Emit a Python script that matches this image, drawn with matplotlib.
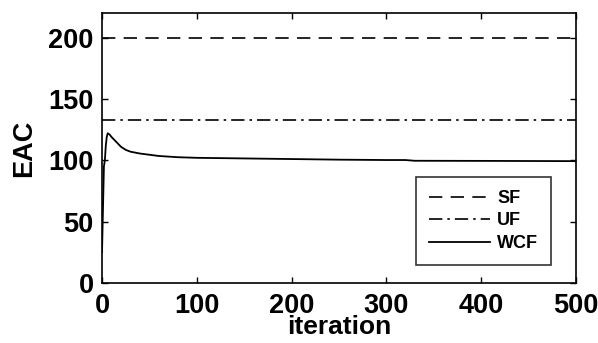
import matplotlib
matplotlib.use("Agg")
import matplotlib.pyplot as plt

plt.rcParams['font.family'] = ['Liberation Sans', 'DejaVu Sans']
plt.rcParams['font.weight'] = 'bold'

# data
sf_value = 200
uf_value = 133
wcf_iter = [0, 1, 2, 3, 4, 5, 6, 8, 10, 15, 20, 25, 30, 40, 50, 60, 80, 100,
            150, 200, 250, 300, 320, 330, 400, 450, 500]
wcf_vals = [25, 60, 95, 100, 112, 119, 122, 121, 119, 115, 111, 108.5, 107,
            105.5, 104.5, 103.5, 102.5, 102, 101.5, 101, 100.5, 100.2, 100.2,
            99.6, 99.5, 99.4, 99.3]
x_range = [0, 500]
x_ticks = [0, 100, 200, 300, 400, 500]
y_ticks = [0, 50, 100, 150, 200]
labels = ['SF', 'UF', 'WCF']

fig = plt.figure(figsize=(5.98, 3.43), dpi=100)
ax = fig.add_axes([0.1706, 0.175, 0.7924, 0.787])

ax.plot(x_range, [sf_value, sf_value], color='black', lw=1.2,
        linestyle=(0, (8, 5)), label=labels[0])
ax.plot(x_range, [uf_value, uf_value], color='black', lw=1.2,
        linestyle=(0, (8, 3, 1.5, 3)), label=labels[1])
ax.plot(wcf_iter, wcf_vals, color='black', lw=1.3, label=labels[2])

ax.set_xlim(0, 500)
ax.set_ylim(0, 220)
ax.set_xticks(x_ticks)
ax.set_yticks(y_ticks)
ax.tick_params(direction='in', top=True, right=True, length=4, width=1,
               labelsize=19.5)
ax.tick_params(axis='x', pad=7)
ax.tick_params(axis='y', pad=6)
for lab in ax.get_xticklabels() + ax.get_yticklabels():
    lab.set_fontweight('bold')
for s in ax.spines.values():
    s.set_linewidth(1.2)

ax.set_xlabel('iteration', fontsize=19, fontweight='bold', labelpad=-2.5)
ax.set_ylabel('EAC', fontsize=19.5, fontweight='bold', labelpad=8)

leg = ax.legend(loc='lower right', bbox_to_anchor=(0.955, 0.055),
                prop={'size': 13, 'weight': 'bold'}, frameon=True,
                fancybox=False, edgecolor='black', handlelength=3.4,
                handletextpad=0.4, borderpad=0.7, labelspacing=0.3,
                borderaxespad=0.2)
leg.get_frame().set_linewidth(1.2)

fig.savefig('out.png', dpi=100)
